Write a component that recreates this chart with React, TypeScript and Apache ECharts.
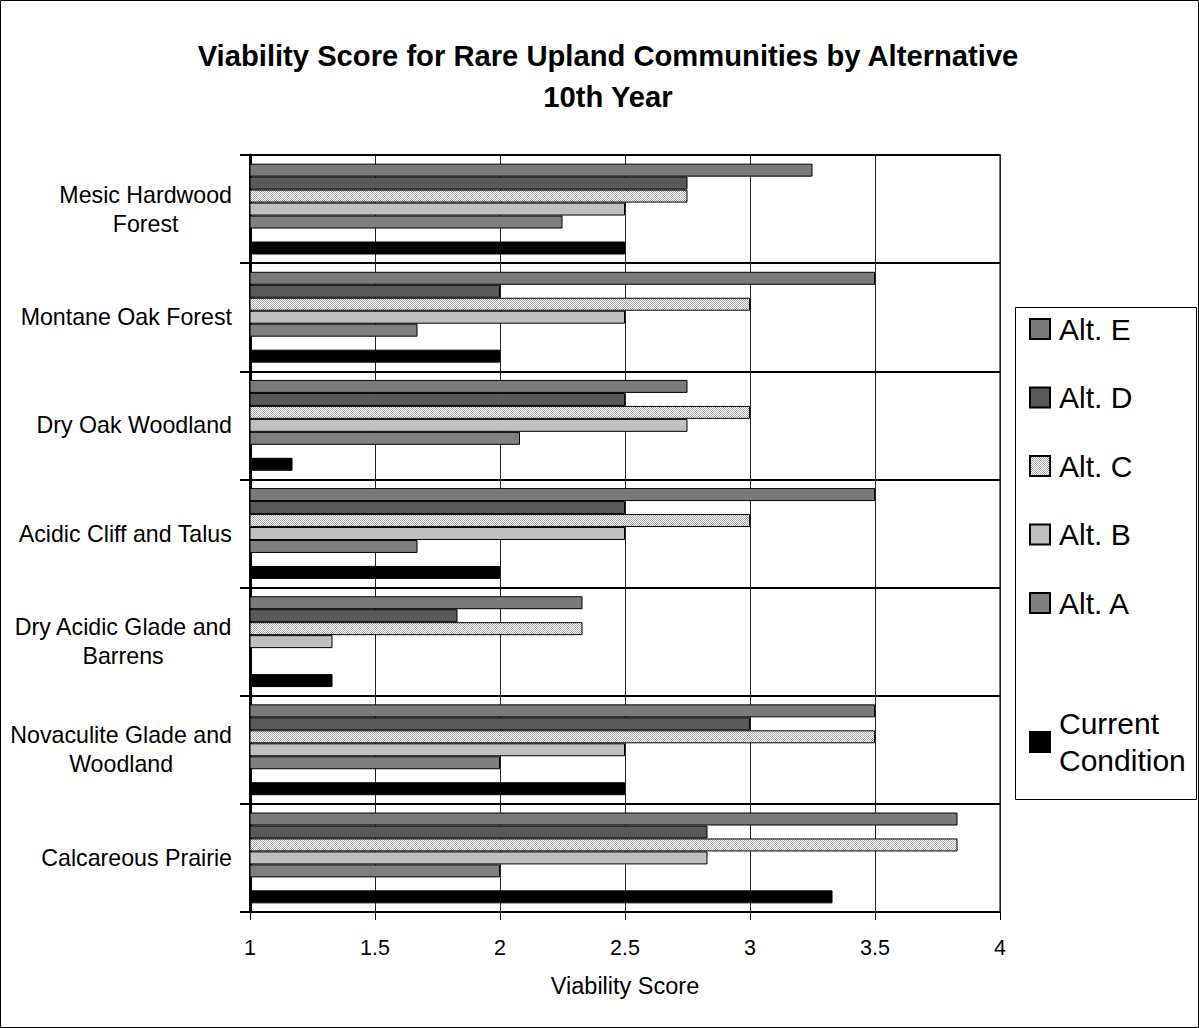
import React, { useEffect, useRef } from 'react';
import * as echarts from 'echarts';

const categories = [
  'Mesic Hardwood\nForest',
  'Montane Oak Forest',
  'Dry Oak Woodland',
  'Acidic Cliff and Talus',
  'Dry Acidic Glade and\nBarrens',
  'Novaculite Glade and\nWoodland',
  'Calcareous Prairie',
];
const altE = [3.25, 3.5, 2.75, 3.5, 2.33, 3.5, 3.83];
const altD = [2.75, 2.0, 2.5, 2.5, 1.83, 3.0, 2.83];
const altC = [2.75, 3.0, 3.0, 3.0, 2.33, 3.5, 3.83];
const altB = [2.5, 2.5, 2.75, 2.5, 1.33, 2.5, 2.83];
const altA = [2.25, 1.67, 2.08, 1.67, 1.0, 2.0, 2.0];
const spacer = [null, null, null, null, null, null, null];
const current = [2.5, 2.0, 1.17, 2.0, 1.33, 2.5, 3.33];
const xMin = 1;
const xMax = 4;
const xStep = 0.5;
const titleLines = ['Viability Score for Rare Upland Communities by Alternative', '10th Year'];
const xName = 'Viability Score';
const altNames = ['Alt. E', 'Alt. D', 'Alt. C', 'Alt. B', 'Alt. A'];
const currentName = 'Current Condition';

const FONT = "'Liberation Sans', Arial, sans-serif";

function makePattern() {
  const c = document.createElement('canvas');
  c.width = 2;
  c.height = 2;
  const ctx = c.getContext('2d')!;
  ctx.fillStyle = '#ffffff';
  ctx.fillRect(0, 0, 2, 2);
  ctx.fillStyle = '#a8a8a8';
  ctx.fillRect(0, 0, 1, 1);
  ctx.fillRect(1, 1, 1, 1);
  return { image: c, repeat: 'repeat' };
}

export default function App() {
  const ref = useRef<HTMLDivElement>(null);
  useEffect(() => {
    document.body.style.margin = '0';
    const chart = echarts.init(ref.current!, null, { renderer: 'svg' });
    const border = { borderColor: '#000', borderWidth: 1 };
    const altSeries = [altE, altD, altC, altB, altA];
    const altColors: any[] = ['#7a7a7a', '#595959', makePattern(), '#c0c0c0', '#7f7f7f'];
    const series: any[] = altSeries.map((d, i) => ({
      name: altNames[i],
      type: 'bar',
      data: d,
      barGap: '0%',
      barCategoryGap: '16%',
      itemStyle: { color: altColors[i], ...border },
    }));
    series.push({ name: ' ', type: 'bar', data: spacer, barGap: '0%', barCategoryGap: '16%' });
    series.push({
      name: currentName,
      type: 'bar',
      data: current,
      barGap: '0%',
      barCategoryGap: '16%',
      itemStyle: { color: '#000', ...border },
    });

    chart.setOption({
      animation: false,
      textStyle: { fontFamily: FONT, color: '#000' },
      title: {
        text: titleLines.join('\n'),
        left: 608,
        textAlign: 'center',
        top: 35,
        padding: 0,
        textStyle: { fontFamily: FONT, fontSize: 29.2, fontWeight: 'bold', lineHeight: 41, color: '#000' },
      },
      grid: {
        left: 250,
        top: 155,
        width: 750,
        height: 757,
        show: true,
        borderColor: '#777',
        borderWidth: 2,
        backgroundColor: 'transparent',
      },
      legend: [
        {
          data: altNames,
          orient: 'vertical',
          left: 1029,
          top: 313,
          padding: 0,
          itemWidth: 20,
          itemHeight: 20,
          itemGap: 36.5,
          icon: 'rect',
          textStyle: { fontFamily: FONT, fontSize: 30, lineHeight: 32, color: '#000', padding: [0, 0, 0, 4] },
        },
        {
          data: [currentName],
          orient: 'vertical',
          left: 1029,
          top: 686.5,
          padding: 0,
          itemWidth: 20,
          itemHeight: 20,
          icon: 'rect',
          formatter: (n: string) => n.replace(' ', '\n'),
          textStyle: { fontFamily: FONT, fontSize: 30, lineHeight: 37, color: '#000', padding: [37, 0, 0, 4] },
        },
      ],
      xAxis: {
        type: 'value',
        min: xMin,
        max: xMax,
        interval: xStep,
        name: xName,
        nameLocation: 'middle',
        nameGap: 62,
        nameTextStyle: { fontFamily: FONT, fontSize: 23.5, color: '#000' },
        axisLine: { show: true, lineStyle: { color: '#000', width: 1 } },
        axisTick: { show: true, length: 8, lineStyle: { color: '#000', width: 1 } },
        axisLabel: { fontFamily: FONT, fontSize: 21.5, color: '#000', margin: 25 },
        splitLine: { show: true, lineStyle: { color: '#222', width: 1 } },
      },
      yAxis: {
        type: 'category',
        data: categories,
        inverse: true,
        axisLine: { show: true, lineStyle: { color: '#000', width: 3 } },
        axisTick: { show: true, length: 10, lineStyle: { color: '#000', width: 2 } },
        axisLabel: {
          margin: 18,
          align: 'right',
          formatter: (v: string) => v.split('\n').map((l) => `{c|${l}}`).join('\n'),
          rich: { c: { align: 'center', fontFamily: FONT, fontSize: 23.2, lineHeight: 29, color: '#000' } },
        },
        splitLine: { show: true, lineStyle: { color: '#000', width: 2 } },
      },
      graphic: [
        {
          type: 'rect',
          shape: { x: 0.5, y: 0.5, width: 1198, height: 1027 },
          style: { fill: 'none', stroke: '#000', lineWidth: 1 },
          silent: true,
        },
        {
          type: 'rect',
          shape: { x: 1015.5, y: 307.5, width: 181, height: 492 },
          style: { fill: 'none', stroke: '#000', lineWidth: 1 },
          silent: true,
        },
      ],
      series,
    });
    return () => chart.dispose();
  }, []);
  return <div ref={ref} style={{ width: 1199, height: 1028 }} />;
}
